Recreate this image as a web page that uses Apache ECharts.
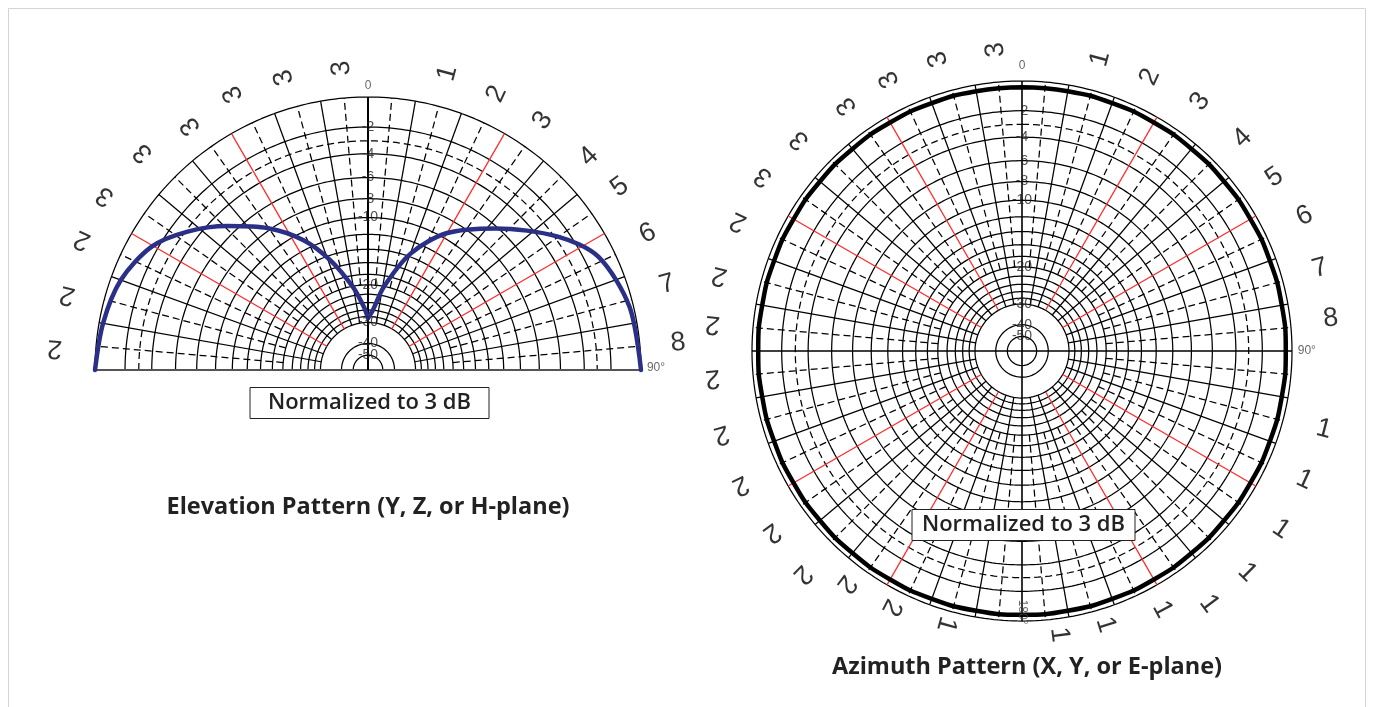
<!DOCTYPE html>
<html><head><meta charset="utf-8">
<script src="https://cdn.jsdelivr.net/npm/echarts@6/dist/echarts.min.js"></script>
<style>html,body{margin:0;padding:0;background:#fff}#c{width:1373px;height:707px}</style>
</head><body><div id="c"></div>
<script>
// ---- grid definition (dB levels of the log-periodic paper) ----
const gridDb = [0,-2,-4,-6,-8,-10,-12,-14,-16,-18,-20,-22,-24,-26,-28,-30];
const dashedDb = [-3];
const innerDb = [-40,-50];
const dbTickLabels = ['-2','-4','-6','-8','-10','-20','-30','-40','-50'];
const dbTickValues = [-2,-4,-6,-8,-10,-20,-30,-40,-50];
const redAngles = [30,60,120,150,210,240,300,330];

// ---- Elevation pattern (angle clockwise from top, gain in dB) ----
const elevAngles = [270,280,290,299.7,307.5,315.7,324.8,333.6,341.1,349.6,356.2,0,4.6,10.8,20.1,29.8,42,54.9,63.8,76.4,90];
const elevGainDb = [0,-0.25,-0.64,-1.58,-3.14,-5.25,-7.78,-10.86,-14.69,-20.08,-25.06,-28.5,-26,-20.06,-13.55,-9.43,-6.17,-2.79,-1.06,-0.25,0];

// ---- Azimuth pattern ----
const aziAngles = [0,10,20,30,40,50,60,70,80,90,100,110,120,130,140,150,160,170,180,190,200,210,220,230,240,250,260,270,280,290,300,310,320,330,340,350,360];
const aziGainDb = [-0.4,-0.4,-0.4,-0.4,-0.4,-0.4,-0.4,-0.4,-0.4,-0.4,-0.4,-0.4,-0.4,-0.4,-0.4,-0.4,-0.4,-0.4,-0.4,-0.4,-0.4,-0.4,-0.4,-0.4,-0.4,-0.4,-0.4,-0.4,-0.4,-0.4,-0.4,-0.4,-0.4,-0.4,-0.4,-0.4,-0.4];

// ---- outer angle labels (as printed) ----
const elevLabelText  = ['2','2','2','3','3','3','3','3','3','1','2','3','4','5','6','7','8'];
const elevLabelAngle = [274,284,294.5,303.5,314,324,334,344,355,15,25,35,46,54,64,74,85];
const elevLabelRad   = [1.15,1.135,1.15,1.155,1.145,1.105,1.125,1.115,1.11,1.125,1.115,1.115,1.125,1.14,1.14,1.14,1.14];

const aziLabelText  = ['1','2','3','4','5','6','7','8','1','1','1','1','1','1','1','1','1','2','2','2','2','2','2','2','2','2','2','3','3','3','3','3','3'];
const aziLabelAngle = [15,25,35.5,46,55.5,64.5,74.5,84,104.5,114.5,124.5,134.5,143.5,151.5,163,172.5,195.5,207,217,224.5,234,244.5,254.5,265,275,284,294.5,304,313.5,324.5,334,344,355];
const aziLabelRad   = [1.12,1.12,1.135,1.135,1.135,1.16,1.145,1.15,1.155,1.15,1.165,1.17,1.165,1.09,1.06,1.06,1.05,1.065,1.08,1.16,1.145,1.155,1.155,1.15,1.15,1.155,1.155,1.155,1.135,1.115,1.12,1.125,1.12];

// ---- helpers ----
const RMAX = 1.25;
function dbToR(db){ return Math.pow(0.89, -db/2); } // log-periodic paper scale
const INK = '#000';
const series = [];
function line(pi, data, style, z, smooth){
  series.push({type:'line', coordinateSystem:'polar', polarIndex:pi, data:data, symbol:'none',
    silent:true, animation:false, clip:false, lineStyle:style, z:z||1, smooth:smooth||false});
}
function arc(pi, db, a0, a1, style, z){
  const d=[]; for(let a=a0;a<=a1;a+=1){ d.push([dbToR(db), a===360 ? 360 : a%360]); }
  line(pi, d, style, z);
}
const solid = {color:INK, width:1.25, type:'solid'};
const dashed = {color:INK, width:1.25, type:[7,4]};
const red = {color:'#ff2a2a', width:1.25, type:'solid'};

function buildGrid(pi, a0, a1){
  gridDb.forEach(db=>arc(pi, db, a0, a1, solid, 1));
  dashedDb.forEach(db=>arc(pi, db, a0, a1, dashed, 1));
  innerDb.forEach(db=>arc(pi, db, a0, a1, solid, 1));
  for(let a=a0;a<=a1;a+=5){
    const ang=a%360;
    if(ang%90===0) continue;
    if(ang%10===0){
      const isRed = redAngles.indexOf(ang)>=0;
      line(pi, [[dbToR(-30),ang],[dbToR(0),ang]], isRed ? red : solid, isRed?2:1);
    } else {
      line(pi, [[dbToR(-20),ang],[dbToR(0),ang]], dashed, 1);
    }
  }
}

// Left (elevation) – half circle
buildGrid(0, 270, 450);
line(0, [[1,270],[0,0],[1,90]], {color:'#555', width:2}, 3);
line(0, [[0,0],[1,0]], {color:'#000', width:2}, 3);
const cusp = elevAngles.indexOf(0);
const elevPts = elevAngles.map((a,i)=>[dbToR(elevGainDb[i]), a]);
const blue = {color:'#2b3087', width:4.5, cap:'round', join:'round'};
line(0, elevPts.slice(0, cusp+1), blue, 5, 0.3);
line(0, elevPts.slice(cusp), blue, 5, 0.3);

// Right (azimuth) – full circle
buildGrid(1, 0, 360);
line(1, [[1,0],[0,0],[1,180]], {color:'#000', width:1.6}, 3);
line(1, [[1,270],[0,0],[1,90]], {color:'#000', width:1.4}, 3);
line(1, aziAngles.map((a,i)=>[dbToR(aziGainDb[i]), a]), {color:'#000', width:4.5}, 5, 0.5);

// text series
function textSeries(pi, items, fontSize, color, z){
  series.push({type:'scatter', coordinateSystem:'polar', polarIndex:pi, symbolSize:1, silent:true,
    animation:false, clip:false, z:z||6, itemStyle:{color:'rgba(0,0,0,0)'},
    label:{show:true, position:'inside', fontFamily:'Liberation Sans, Arial, sans-serif', fontSize:fontSize, color:color},
    data: items});
}
function norm(r){ r = ((r%360)+360)%360; return r>180 ? r-360 : r; }
[0,1].forEach(pi=>{
  textSeries(pi, dbTickValues.map((v,i)=>({value:[dbToR(v),0], label:{formatter:dbTickLabels[i]}})), 14, '#222');
});
textSeries(0, [{value:[1.04,0], label:{formatter:'0'}}, {value:[1.055,89.5], label:{formatter:'90°'}}], 12, '#444');
textSeries(1, [{value:[1.055,0], label:{formatter:'0'}}, {value:[1.055,90], label:{formatter:'90°'}},
               {value:[0.967,180], label:{formatter:'180°', rotate:-90}}], 12, '#444');
textSeries(0, elevLabelText.map((t,i)=>({value:[elevLabelRad[i], elevLabelAngle[i]], label:{formatter:t, rotate:norm(90-elevLabelAngle[i])}})), 27, '#000');
textSeries(1, aziLabelText.map((t,i)=>({value:[aziLabelRad[i], aziLabelAngle[i]], label:{formatter:t, rotate:norm(90-aziLabelAngle[i])}})), 27, '#000');

const boxText = {fontFamily:'Open Sans', fontWeight:600, fontSize:22, color:'#222'};
const titleText = {fontFamily:'Open Sans', fontWeight:'bold', fontSize:23.5, color:'#222'};
const option = {
  backgroundColor:'#fff',
  animation:false,
  title:[
    {text:'Normalized to 3 dB', left:369.5-18, top:387, textAlign:'center', padding:[5,18,5,18], borderColor:'#222', borderWidth:1, backgroundColor:'#fff', textStyle:boxText, z:10},
    {text:'Normalized to 3 dB', left:1023.5-10, top:509, textAlign:'center', padding:[5,10,5,10], borderColor:'#222', borderWidth:1, backgroundColor:'#fff', textStyle:boxText, z:10},
    {text:'Elevation Pattern (Y, Z, or H-plane)', left:368, top:495, textAlign:'center', padding:0, textStyle:titleText},
    {text:'Azimuth Pattern (X, Y, or E-plane)', left:1027, top:655, textAlign:'center', padding:0, textStyle:titleText}
  ],
  graphic:[{type:'rect', shape:{x:8.5,y:8.5,width:1357,height:720}, style:{fill:'none', stroke:'#d4d4d4', lineWidth:1}, silent:true, z:-1}],
  polar:[{center:[368,370], radius:273*RMAX}, {center:[1022,351], radius:270*RMAX}],
  radiusAxis:[{polarIndex:0,type:'value',min:0,max:RMAX,show:false},{polarIndex:1,type:'value',min:0,max:RMAX,show:false}],
  angleAxis:[{polarIndex:0,type:'value',min:0,max:360,startAngle:90,clockwise:true,show:false},
             {polarIndex:1,type:'value',min:0,max:360,startAngle:90,clockwise:true,show:false}],
  series: series
};
const chart = echarts.init(document.getElementById('c'), null, {renderer:'canvas'});
chart.setOption(option);
</script></body></html>
